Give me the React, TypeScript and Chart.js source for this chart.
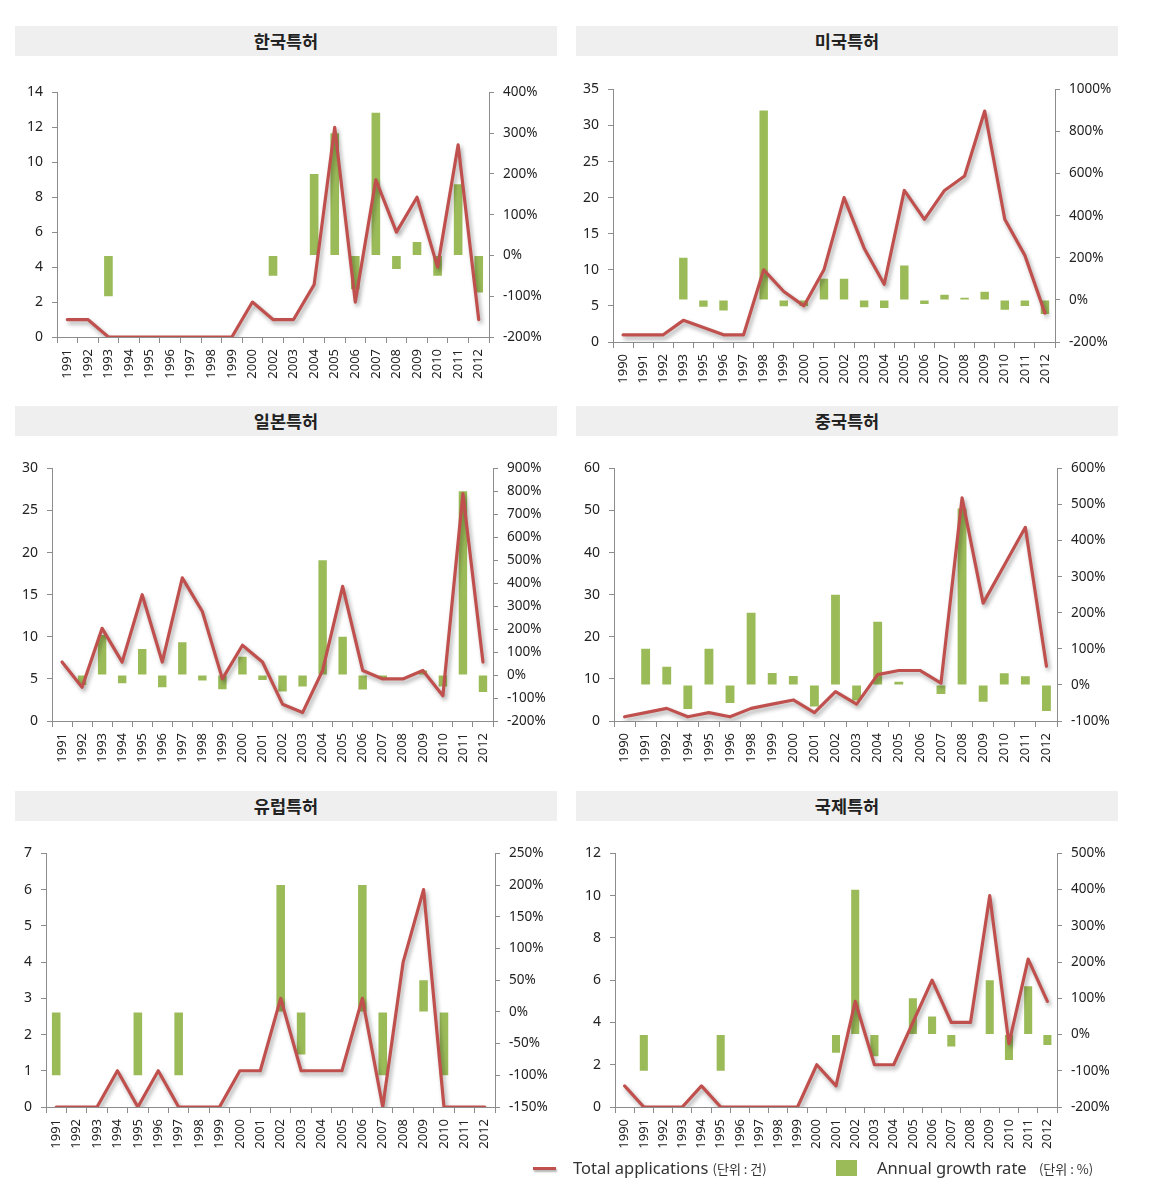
import React, { useEffect, useRef } from "react";
import { Chart, registerables } from "chart.js";

Chart.register(...registerables);

// ---------- Data ----------
const krYears = ["1991","1992","1993","1994","1995","1996","1997","1998","1999","2000","2002","2003","2004","2005","2006","2007","2008","2009","2010","2011","2012"];
const krTotal = [1,1,0,0,0,0,0,0,0,2,1,1,3,12,2,9,6,8,4,11,1];
const krGrowth = [null,0,-100,null,null,null,null,null,null,null,-50,0,200,300,-83,350,-33,33,-50,175,-91];

const usYears = ["1990","1991","1992","1993","1995","1996","1997","1998","1999","2000","2001","2002","2003","2004","2005","2006","2007","2008","2009","2010","2011","2012"];
const usTotal = [1,1,1,3,2,1,1,10,7,5,10,20,13,8,21,17,21,23,32,17,12,4];
const usGrowth = [null,0,0,200,-33,-50,0,900,-30,-29,100,100,-35,-38,163,-19,24,10,39,-47,-29,-67];

const jpYears = ["1991","1992","1993","1994","1995","1996","1997","1998","1999","2000","2001","2002","2003","2004","2005","2006","2007","2008","2009","2010","2011","2012"];
const jpTotal = [7,4,11,7,15,7,17,13,5,9,7,2,1,6,16,6,5,5,6,3,27,7];
const jpGrowth = [null,-43,175,-36,114,-53,143,-24,-62,80,-22,-71,-50,500,167,-63,-17,0,20,-50,800,-74];

const cnYears = ["1990","1991","1992","1994","1995","1996","1998","1999","2000","2001","2002","2003","2004","2005","2006","2007","2008","2009","2010","2011","2012"];
const cnTotal = [1,2,3,1,2,1,3,4,5,2,7,4,11,12,12,9,53,28,37,46,13];
const cnGrowth = [null,100,50,-67,100,-50,200,33,25,-60,250,-43,175,9,0,-25,489,-47,32,24,-72];

const euYears = ["1991","1992","1993","1994","1995","1996","1997","1998","1999","2000","2001","2002","2003","2004","2005","2006","2007","2008","2009","2010","2011","2012"];
const euTotal = [0,0,0,1,0,1,0,0,0,1,1,3,1,1,1,3,0,4,6,0,0,0];
const euGrowth = [-100,null,null,null,-100,null,-100,null,null,null,0,200,-67,0,0,200,-100,null,50,-100,null,null];

const intlYears = ["1990","1991","1992","1993","1994","1995","1996","1997","1998","1999","2000","2001","2002","2003","2004","2005","2006","2007","2008","2009","2010","2011","2012"];
const intlTotal = [1,0,0,0,1,0,0,0,0,0,2,1,5,2,2,4,6,4,4,10,3,7,5];
const intlGrowth = [null,-100,null,null,null,-100,null,null,null,null,null,-50,400,-60,0,100,50,-33,0,150,-70,133,-29];

const panelTitles = ["한국특허", "미국특허", "일본특허", "중국특허", "유럽특허", "국제특허"];
const legendLabels = ["Total applications", "Annual growth rate"];
const legendUnits = ["(단위 : 건)", "(단위 : %)"];

const LINE_COLOR = "#C0504D";
const BAR_COLOR = "#9BBB59";
const AXIS_COLOR = "#8c8c8c";
const TEXT_COLOR = "#222222";
const FONT = '"Noto Sans", "Noto Sans CJK KR", sans-serif';

type PanelCfg = {
  labels: string[];
  total: number[];
  growth: (number | null)[];
  leftMax: number;
  leftStep: number;
  rightMin: number;
  rightMax: number;
  rightStep: number;
  plot: { l: number; r: number; t: number; b: number };
};

const panels: PanelCfg[] = [
  { labels: krYears, total: krTotal, growth: krGrowth, leftMax: 14, leftStep: 2, rightMin: -200, rightMax: 400, rightStep: 100, plot: { l: 57, r: 489, t: 89, b: 337 } },
  { labels: usYears, total: usTotal, growth: usGrowth, leftMax: 35, leftStep: 5, rightMin: -200, rightMax: 1000, rightStep: 200, plot: { l: 613, r: 1055, t: 86, b: 342 } },
  { labels: jpYears, total: jpTotal, growth: jpGrowth, leftMax: 30, leftStep: 5, rightMin: -200, rightMax: 900, rightStep: 100, plot: { l: 52, r: 493, t: 465, b: 721 } },
  { labels: cnYears, total: cnTotal, growth: cnGrowth, leftMax: 60, leftStep: 10, rightMin: -100, rightMax: 600, rightStep: 100, plot: { l: 614, r: 1057, t: 465, b: 721 } },
  { labels: euYears, total: euTotal, growth: euGrowth, leftMax: 7, leftStep: 1, rightMin: -150, rightMax: 250, rightStep: 50, plot: { l: 46, r: 495, t: 850, b: 1107 } },
  { labels: intlYears, total: intlTotal, growth: intlGrowth, leftMax: 12, leftStep: 2, rightMin: -200, rightMax: 500, rightStep: 100, plot: { l: 615, r: 1057, t: 850, b: 1107 } },
];

const titleBoxes = [
  { x: 15, y: 26, w: 542, h: 30 },
  { x: 576, y: 26, w: 542, h: 30 },
  { x: 15, y: 406, w: 542, h: 30 },
  { x: 576, y: 406, w: 542, h: 30 },
  { x: 15, y: 791, w: 542, h: 30 },
  { x: 576, y: 791, w: 542, h: 30 },
];

const LEFT_W = 50;
const RIGHT_W = 70;
const TOP_PAD = 14;
const X_H = 52;

const shadowPlugin = {
  id: "lineShadow",
  beforeDatasetDraw(chart: any, args: any) {
    const ds = chart.data.datasets[args.index];
    if (ds.type === "line") {
      const ctx = chart.ctx;
      ctx.save();
      ctx.shadowColor = "rgba(0,0,0,0.35)";
      ctx.shadowBlur = 4;
      ctx.shadowOffsetX = 2;
      ctx.shadowOffsetY = 3;
    }
  },
  afterDatasetDraw(chart: any, args: any) {
    const ds = chart.data.datasets[args.index];
    if (ds.type === "line") {
      chart.ctx.restore();
    }
  },
};

function Panel({ cfg }: { cfg: PanelCfg }) {
  const ref = useRef<HTMLCanvasElement | null>(null);
  const w = cfg.plot.r - cfg.plot.l + LEFT_W + RIGHT_W;
  const h = cfg.plot.b - cfg.plot.t + TOP_PAD + X_H;
  useEffect(() => {
    if (!ref.current) return;
    const chart = new Chart(ref.current, {
      type: "bar",
      data: {
        labels: cfg.labels,
        datasets: [
          {
            type: "line",
            label: legendLabels[0],
            data: cfg.total,
            borderColor: LINE_COLOR,
            borderWidth: 3.2,
            borderJoinStyle: "round",
            borderCapStyle: "round",
            pointRadius: 0,
            tension: 0,
            yAxisID: "y",
            order: 0,
          } as any,
          {
            type: "bar",
            label: legendLabels[1],
            data: cfg.growth as any,
            backgroundColor: BAR_COLOR,
            barPercentage: 0.42,
            categoryPercentage: 1,
            yAxisID: "y1",
            order: 1,
          } as any,
        ],
      },
      options: {
        responsive: false,
        animation: false,
        devicePixelRatio: 1,
        layout: { padding: { top: TOP_PAD, left: 0, right: 0, bottom: 0 } },
        plugins: { legend: { display: false }, tooltip: { enabled: false }, title: { display: false } },
        scales: {
          x: {
            offset: true,
            grid: { display: true, drawOnChartArea: false, drawTicks: true, tickLength: 6, color: AXIS_COLOR, offset: true },
            border: { display: true, color: AXIS_COLOR, width: 1 },
            ticks: { minRotation: 90, maxRotation: 90, autoSkip: false, padding: 6, color: TEXT_COLOR, font: { family: FONT, size: 13 } },
            afterFit: (s: any) => { s.height = X_H; },
          },
          y: {
            position: "left",
            min: 0,
            max: cfg.leftMax,
            ticks: { stepSize: cfg.leftStep, padding: 9, color: TEXT_COLOR, font: { family: FONT, size: 14 } },
            grid: { display: true, drawOnChartArea: false, drawTicks: true, tickLength: 5, color: AXIS_COLOR },
            border: { display: true, color: AXIS_COLOR, width: 1 },
            afterFit: (s: any) => { s.width = LEFT_W; },
          },
          y1: {
            position: "right",
            min: cfg.rightMin,
            max: cfg.rightMax,
            ticks: { stepSize: cfg.rightStep, padding: 9, color: TEXT_COLOR, font: { family: FONT, size: 13.5 }, callback: (v: any) => v + "%" },
            grid: { display: true, drawOnChartArea: false, drawTicks: true, tickLength: 5, color: AXIS_COLOR },
            border: { display: true, color: AXIS_COLOR, width: 1 },
            afterFit: (s: any) => { s.width = RIGHT_W; },
          },
        },
      },
      plugins: [shadowPlugin],
    });
    return () => chart.destroy();
  }, [cfg]);
  return (
    <canvas
      ref={ref}
      width={w}
      height={h}
      style={{ position: "absolute", left: cfg.plot.l - LEFT_W, top: cfg.plot.t - TOP_PAD, width: w, height: h }}
    />
  );
}

export default function App() {
  return (
    <div style={{ position: "absolute", left: 0, top: 0, width: 1159, height: 1197, background: "#ffffff", overflow: "hidden" }}>
      {titleBoxes.map((b, i) => (
        <div
          key={"t" + i}
          style={{
            position: "absolute",
            left: b.x,
            top: b.y,
            width: b.w,
            height: b.h,
            background: "#efefef",
            textAlign: "center",
            lineHeight: b.h + "px",
            fontFamily: '"Noto Sans CJK KR", sans-serif',
            fontWeight: 700,
            fontSize: 17.5,
            color: TEXT_COLOR,
          }}
        >
          {panelTitles[i]}
        </div>
      ))}
      {panels.map((p, i) => (
        <Panel key={"p" + i} cfg={p} />
      ))}
      <div style={{ position: "absolute", left: 533, top: 1167, width: 23, height: 3, background: LINE_COLOR, boxShadow: "1px 2px 2px rgba(0,0,0,0.3)" }} />
      <div style={{ position: "absolute", left: 573, top: 1156, fontFamily: FONT, fontSize: 16.5, color: "#333", whiteSpace: "nowrap" }}>
        {legendLabels[0]} <span style={{ fontSize: 13, fontFamily: '"Noto Sans CJK KR", sans-serif' }}>{legendUnits[0]}</span>
      </div>
      <div style={{ position: "absolute", left: 836, top: 1160, width: 21, height: 16, background: BAR_COLOR }} />
      <div style={{ position: "absolute", left: 877, top: 1156, fontFamily: FONT, fontSize: 16.5, color: "#333", whiteSpace: "nowrap" }}>
        {legendLabels[1]} <span style={{ fontSize: 13, marginLeft: 8, fontFamily: '"Noto Sans CJK KR", sans-serif' }}>{legendUnits[1]}</span>
      </div>
    </div>
  );
}
